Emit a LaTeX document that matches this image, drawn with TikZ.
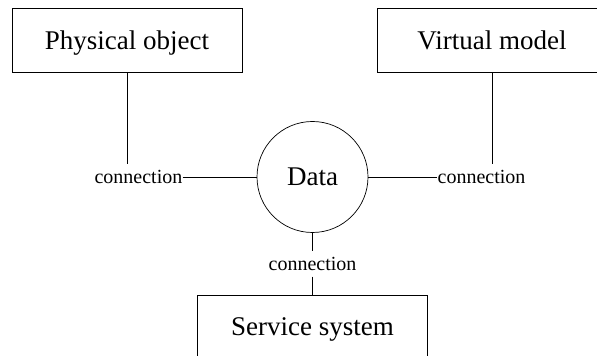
\documentclass[tikz,border=0pt]{standalone}
\usepackage{fontspec}
\setmainfont{Liberation Serif}
\usetikzlibrary{positioning}

\begin{document}
\begin{tikzpicture}[x=1pt, y=1pt, line width=0.7pt,
    block/.style={draw, rectangle, minimum width=230pt, minimum height=64pt,
        text depth=0pt, font=\fontsize{27}{32}\selectfont},
    hub/.style={draw, circle, minimum size=111pt, inner sep=0pt,
        font=\fontsize{27}{32}\selectfont},
    link/.style={inner sep=0pt, minimum height=25pt,
        font=\fontsize{20}{24}\selectfont}]
    \useasboundingbox (0,0) rectangle (597,356);
    \node[hub] (data) at (312.5,179) {Data};
    \node[block] (physical) at (127,315.5) {Physical object};
    \node[block] (virtual) at (492,315.5) {Virtual model};
    \node[link, left=74pt of data] (lconn) {connection};
    \node[link, right=69pt of data] (rconn) {connection};
    \node[link, below=18pt of data] (bconn) {connection};
    \node[block, below=18pt of bconn] (service) {Service system};
    % connections
    \draw (physical) -- (physical.south |- lconn.north);
    \draw (virtual) -- (virtual.south |- rconn.north);
    \draw (lconn) -- (data);
    \draw (data) -- (rconn);
    \draw (data) -- (bconn);
    \draw (bconn) -- (service);
\end{tikzpicture}
\end{document}
